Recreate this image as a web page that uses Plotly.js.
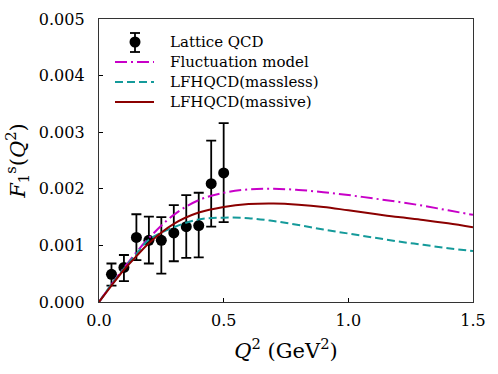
<!DOCTYPE html>
<html><head><meta charset="utf-8">
<script src="https://cdn.plot.ly/plotly-3.0.1.min.js"></script>
<style>body{margin:0;padding:0;background:#fff}#c{width:498px;height:374px}</style>
</head><body><div id="c"></div>
<script>
// Lattice QCD data
const latQ2 = [0.05, 0.10, 0.15, 0.20, 0.25, 0.30, 0.35, 0.40, 0.45, 0.50];
const latF = [0.00049, 0.00061, 0.00114, 0.00109, 0.00109, 0.00122, 0.00133, 0.00135, 0.00209, 0.00228];
const latErrPlus = [0.00019, 0.00022, 0.00041, 0.00042, 0.00041, 0.00049, 0.00056, 0.00058, 0.00076, 0.00088];
const latErrMinus = [0.00020, 0.00024, 0.00040, 0.00041, 0.00059, 0.00050, 0.00055, 0.00056, 0.00076, 0.00087];
// Model curves
const curveQ2 = [0, 0.05, 0.10, 0.15, 0.20, 0.30, 0.40, 0.50, 0.60, 0.70, 0.80, 0.90, 1.00, 1.10, 1.20, 1.30, 1.40, 1.50];
const fluct = [0, 0.00031, 0.00060, 0.00088, 0.00113, 0.00154, 0.00180, 0.00193, 0.00199, 0.00200, 0.00198, 0.00194, 0.00189, 0.00183, 0.00177, 0.00170, 0.00162, 0.00154];
const massless = [0, 0.00031, 0.00059, 0.00085, 0.00110, 0.00132, 0.00146, 0.00149, 0.00148, 0.00143, 0.00136, 0.00128, 0.00121, 0.00114, 0.00107, 0.00101, 0.00095, 0.00090];
const massive = [0, 0.00029, 0.00057, 0.00081, 0.00104, 0.00138, 0.00158, 0.00168, 0.00173, 0.00174, 0.00172, 0.00168, 0.00162, 0.00156, 0.00150, 0.00145, 0.00139, 0.00132];
const seriesNames = ['Lattice QCD', 'Fluctuation model', 'LFHQCD(massless)', 'LFHQCD(massive)'];

const font = 'DejaVu Serif';
const cMag = '#c800c8', cTeal = '#149a9a', cRed = '#8b0000';
const dashDot = '12px,4px,2px,4px', dashed = '8px,4px';
const traces = [
  {x: latQ2, y: latF, type: 'scatter', mode: 'markers', name: seriesNames[0],
   marker: {color: '#000', size: 11},
   error_y: {type: 'data', symmetric: false, array: latErrPlus, arrayminus: latErrMinus, color: '#000', thickness: 1.8, width: 5}},
  {x: curveQ2, y: fluct, type: 'scatter', mode: 'lines', name: seriesNames[1],
   line: {color: cMag, width: 2, dash: dashDot, shape: 'spline'}},
  {x: curveQ2, y: massless, type: 'scatter', mode: 'lines', name: seriesNames[2],
   line: {color: cTeal, width: 2, dash: dashed, shape: 'spline'}},
  {x: curveQ2, y: massive, type: 'scatter', mode: 'lines', name: seriesNames[3],
   line: {color: cRed, width: 2, shape: 'spline'}}
];

// legend drawn manually (plot-area paper coordinates from pixel positions)
const L = 99, T = 19, W = 374, H = 283;
const px = v => (v - L) / W, py = v => (T + H - v) / H;
const rows = [42, 62, 82, 102];
const shapes = [], annotations = [];
const symX0 = 115, symX1 = 154, txtX = 168;
// Lattice QCD key
shapes.push({type: 'line', xref: 'paper', yref: 'paper', x0: px(135), x1: px(135), y0: py(rows[0] - 9), y1: py(rows[0] + 10), line: {color: '#000', width: 1.8}});
shapes.push({type: 'line', xref: 'paper', yref: 'paper', x0: px(130), x1: px(140), y0: py(rows[0] - 9), y1: py(rows[0] - 9), line: {color: '#000', width: 1.8}});
shapes.push({type: 'line', xref: 'paper', yref: 'paper', x0: px(130), x1: px(140), y0: py(rows[0] + 10), y1: py(rows[0] + 10), line: {color: '#000', width: 1.8}});
shapes.push({type: 'circle', xref: 'paper', yref: 'paper', x0: px(129.5), x1: px(140.5), y0: py(rows[0] + 5.5), y1: py(rows[0] - 5.5), fillcolor: '#000', line: {color: '#000', width: 0}});
const keyStyles = [null, {color: cMag, width: 2, dash: dashDot}, {color: cTeal, width: 2, dash: dashed}, {color: cRed, width: 2}];
for (let i = 1; i < 4; i++) {
  shapes.push({type: 'line', xref: 'paper', yref: 'paper', x0: px(symX0), x1: px(symX1), y0: py(rows[i]), y1: py(rows[i]), line: keyStyles[i]});
}
for (let i = 0; i < 4; i++) {
  annotations.push({xref: 'paper', yref: 'paper', x: px(txtX), y: py(rows[i]), xanchor: 'left', yanchor: 'middle',
    text: seriesNames[i], showarrow: false, font: {family: font, size: 15, color: '#000'}});
}

const layout = {
  width: 498, height: 374,
  margin: {l: L, r: 498 - L - W, t: T, b: 374 - T - H},
  paper_bgcolor: '#fff', plot_bgcolor: '#fff',
  font: {family: font, color: '#000', size: 16},
  showlegend: false,
  shapes: shapes, annotations: annotations,
  xaxis: {range: [0, 1.5], tickvals: [0, 0.5, 1.0, 1.5], ticktext: ['0.0', '0.5', '1.0', '1.5'],
          ticks: 'inside', ticklen: 4, tickcolor: '#000', showline: true, linecolor: '#333', linewidth: 1.2,
          mirror: true, showgrid: false, zeroline: false, ticklabelstandoff: 4,
          tickfont: {family: font, size: 16},
          title: {text: '<i>Q</i><sup>2</sup> (GeV<sup>2</sup>)', font: {family: font, size: 21}, standoff: 13}},
  yaxis: {range: [0, 0.005], tickvals: [0, 0.001, 0.002, 0.003, 0.004, 0.005],
          ticktext: ['0.000', '0.001', '0.002', '0.003', '0.004', '0.005'],
          ticks: 'inside', ticklen: 4, tickcolor: '#000', showline: true, linecolor: '#333', linewidth: 1.2,
          mirror: true, showgrid: false, zeroline: false, ticklabelstandoff: 10,
          tickfont: {family: font, size: 16},
          title: {text: '<i>F</i><sub>1</sub><sup>s</sup>(<i>Q</i><sup>2</sup>)', font: {family: font, size: 21}, standoff: 7}}
};
Plotly.newPlot('c', traces, layout, {displayModeBar: false, staticPlot: true});
</script></body></html>
